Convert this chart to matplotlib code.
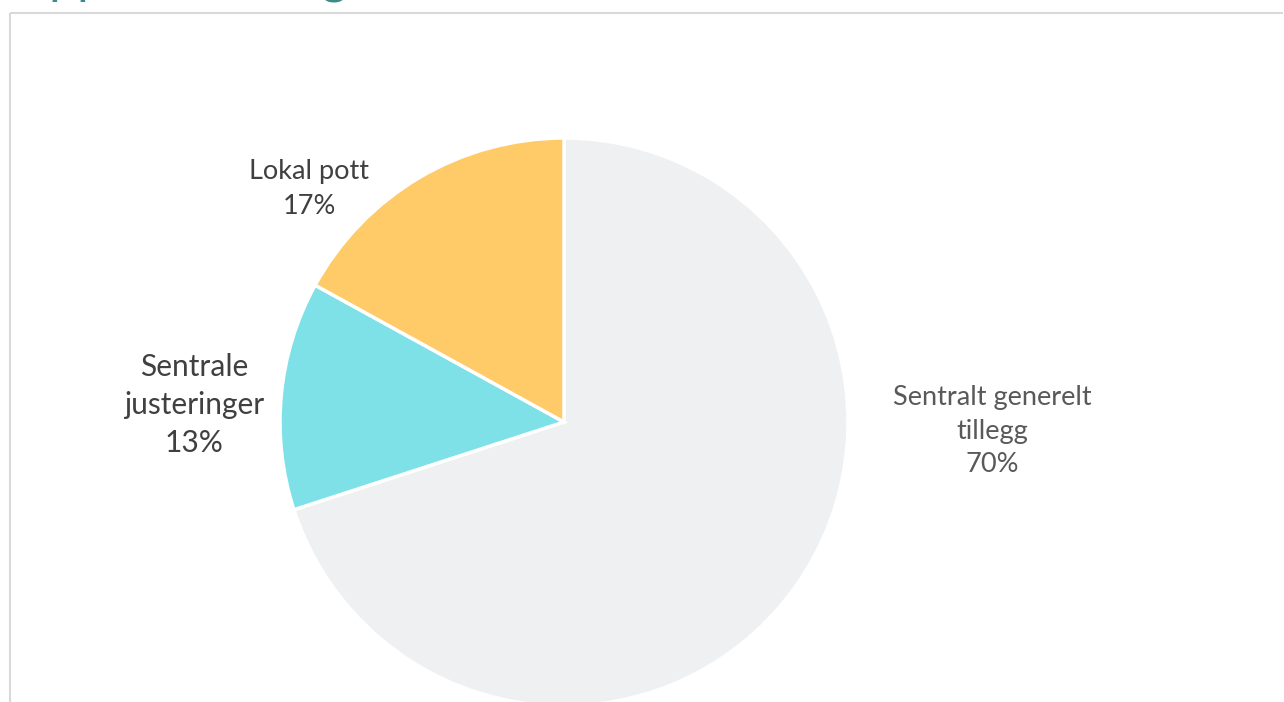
import matplotlib
matplotlib.use('Agg')
import numpy as np
from matplotlib import pyplot as plt

W, H = 1284, 702

labels = ['Sentralt generelt\ntillegg', 'Sentrale\njusteringer', 'Lokal pott']
shares = [70, 13, 17]
colors = ['#EFF0F2', '#7FE1E8', '#FFCB69']

# label anchor (pixels from top-left), font size, colour
label_pos = [(992, 431), (194, 405), (309, 189)]
label_size = [19.5, 21.5, 19.5]
label_color = ['#595959', '#404040', '#404040']

plt.rcParams['font.family'] = ['Lato', 'DejaVu Sans']

fig = plt.figure(figsize=(W / 100, H / 100), dpi=100)
ax = fig.add_axes([0, 0, 1, 1])

# slide frame
ax.plot([9.5, 9.5], [0, H - 12.5], color='#D9D9D9', lw=1.5, solid_capstyle='butt')
ax.plot([9.5, 1283], [H - 12.5, H - 12.5], color='#D9D9D9', lw=1.5, solid_capstyle='butt')

# title sits mostly above the crop, only descenders show
fig.text(10 / W, 1 + 8 / H, 'Oppsummering', color='#3E8A89', fontsize=36,
         ha='left', va='baseline')

ax.pie(shares, colors=colors, startangle=90, counterclock=False,
       center=(564, H - 422), radius=284, frame=True,
       wedgeprops=dict(edgecolor='white', linewidth=2.5))
ax.set_xlim(0, W)
ax.set_ylim(0, H)
ax.set_aspect('equal')
ax.axis('off')

for lab, v, (x, y), fs, c in zip(labels, shares, label_pos, label_size, label_color):
    ax.text(x, H - y, '{}\n{}%'.format(lab, v), ha='center', va='center',
            fontsize=fs, color=c, linespacing=1.45)

fig.savefig('out.png', dpi=100)
